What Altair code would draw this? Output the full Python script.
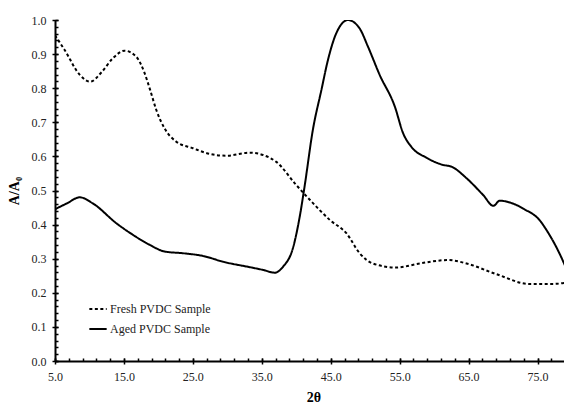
import altair as alt
import pandas as pd

fresh_x = [5.0, 5.3, 6.4, 8.6, 10.1, 11.8, 13.4, 15.1, 16.8, 18.0, 18.8, 19.7, 20.9, 22.6, 25.0, 27.5,
           29.9, 33.3, 35.2, 37.1, 40.0, 42.0, 44.9, 47.3, 49.2, 51.1, 54.5, 57.9, 62.0, 64.7, 69.0,
           73.8, 77.2, 80.0]
fresh_y = [0.955, 0.946, 0.912, 0.839, 0.819, 0.848, 0.888, 0.910, 0.892, 0.844, 0.795, 0.736, 0.682,
           0.643, 0.624, 0.607, 0.602, 0.611, 0.604, 0.584, 0.516, 0.472, 0.413, 0.374, 0.316, 0.286,
           0.274, 0.286, 0.296, 0.286, 0.255, 0.226, 0.226, 0.233]

aged_x = [5.0, 6.7, 8.6, 10.5, 13.9, 16.3, 18.8, 20.9, 23.6, 26.5, 29.4, 33.3, 35.2, 36.9, 38.1, 39.5,
          40.5, 41.2, 42.4, 43.65, 44.6, 45.8, 47.5, 49.2, 50.4, 52.1, 54.3, 55.5, 56.7, 58.9, 61.3,
          62.5, 64.7, 67.1, 68.6, 69.5, 71.4, 73.1, 75.3, 76.3, 77.7, 79.9]
aged_y = [0.445, 0.462, 0.480, 0.462, 0.404, 0.370, 0.340, 0.321, 0.316, 0.308, 0.291, 0.275, 0.267,
          0.259, 0.277, 0.330, 0.423, 0.511, 0.677, 0.795, 0.883, 0.961, 1.0, 0.975, 0.922, 0.839,
          0.746, 0.668, 0.628, 0.596, 0.575, 0.570, 0.536, 0.487, 0.455, 0.470, 0.462, 0.445, 0.413,
          0.384, 0.335, 0.237]

series_names = ["Fresh PVDC Sample", "Aged PVDC Sample"]
x_major = [5, 15, 25, 35, 45, 55, 65, 75]
x_minor = list(range(5, 81, 2))
y_major = [round(i * 0.1, 1) for i in range(11)]
y_minor = [round(i * 0.02, 2) for i in range(51)]

df = pd.concat([
    pd.DataFrame({"x": fresh_x, "y": fresh_y, "s": series_names[0], "o": range(len(fresh_x))}),
    pd.DataFrame({"x": aged_x, "y": aged_y, "s": series_names[1], "o": range(len(aged_x))}),
])

FONT = "Liberation Serif"
xs = alt.Scale(domain=[5, 80], nice=False, zero=False)
ys = alt.Scale(domain=[0, 1], nice=False)

main = alt.Chart(df).mark_line(color="black", strokeWidth=2, interpolate="monotone", clip=True).encode(
    x=alt.X("x:Q", scale=xs,
            axis=alt.Axis(title="2θ", orient="bottom", values=x_major, format=".1f",
                          ticks=False, tickSize=0, labelFlush=False, labelOverlap=False, grid=False,
                          domainColor="black", domainWidth=2,
                          labelFont=FONT, labelFontSize=12, labelColor="#222", labelPadding=10,
                          titleFont=FONT, titleFontSize=14, titleFontWeight="bold", titleColor="black",
                          titlePadding=8)),
    y=alt.Y("y:Q", scale=ys,
            axis=alt.Axis(title="A/A₀", orient="left", values=y_major, format=".1f",
                          ticks=False, tickSize=0, labelFlush=False, labelOverlap=False, grid=False,
                          domainColor="black", domainWidth=2,
                          labelFont=FONT, labelFontSize=12, labelColor="#222", labelPadding=9,
                          titleFont=FONT, titleFontSize=14, titleFontWeight="bold", titleColor="black",
                          titlePadding=10)),
    strokeDash=alt.StrokeDash("s:N", scale=alt.Scale(domain=series_names, range=[[3, 2.5], [1, 0]]),
                              legend=alt.Legend(title=None, orient="none", legendX=33, legendY=279,
                                                symbolType="stroke", symbolStrokeColor="black",
                                                symbolStrokeWidth=2, symbolSize=300,
                                                labelFont=FONT, labelFontSize=12, labelColor="#222",
                                                labelOffset=2, rowPadding=4)),
    order="o:Q",
)


def tick_layer(xv, yv, size):
    return alt.Chart(df).mark_line(strokeOpacity=0).encode(
        x=alt.X("x:Q", scale=xs,
                axis=alt.Axis(title=None, orient="bottom", values=xv, labels=False, domain=False,
                              ticks=True, tickSize=size, tickWidth=1.5, tickColor="black",
                              grid=False, offset=-3)),
        y=alt.Y("y:Q", scale=ys,
                axis=alt.Axis(title=None, orient="left", values=yv, labels=False, domain=False,
                              ticks=True, tickSize=size, tickWidth=1.5, tickColor="black",
                              grid=False, offset=-3)),
        detail="s:N",
    )


chart = alt.layer(main, tick_layer(x_minor, y_minor, 3), tick_layer(x_major, y_major, 6)).resolve_axis(
    x="independent", y="independent"
).properties(
    width=517, height=341,
    autosize=alt.AutoSizeParams(type="none"),
    padding={"left": 47, "top": 12, "right": -8, "bottom": 45},
).configure_view(stroke=None)

chart.save("out.html", embed_options={"renderer": "svg", "actions": False})
